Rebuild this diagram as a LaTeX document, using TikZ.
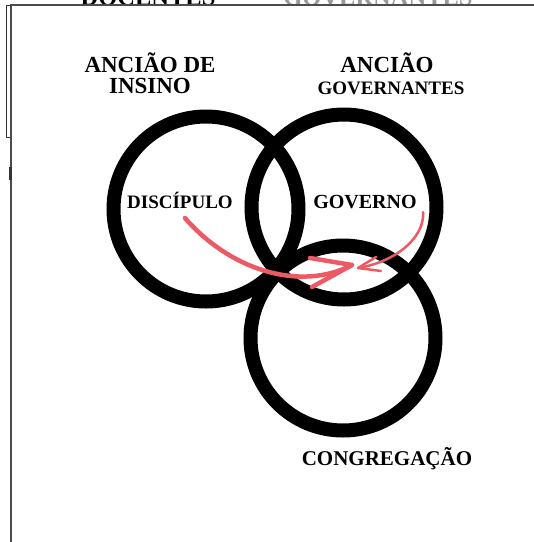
\documentclass[tikz,border=0pt]{standalone}
\usepackage{fontspec}
\setmainfont{Liberation Serif}
\definecolor{arrred}{HTML}{EC5A63}
\begin{document}
\begin{tikzpicture}[x=1pt,y=-1pt,
  ring/.style={draw=black, line width=14pt, circle, minimum size=185pt, inner sep=0pt},
  lbl/.style={anchor=base, inner sep=0pt},
  frameline/.style={draw=black!70, line width=1.3pt},
  redstroke/.style={draw=arrred, line cap=round, line join=round}]
\useasboundingbox (0,0) rectangle (534,542);
\fill[white] (0,0) rectangle (534,542);
% clipped headings at top
\node[lbl, font=\bfseries\fontsize{24.5}{24.5}\selectfont] (t1) at (148,5) {DOCENTES};
\node[lbl, font=\bfseries\fontsize{24.5}{24.5}\selectfont, text=black!40] (t2) at (378,5) {GOVERNANTES};
% frame
\coordinate (fR) at (534,5);
\coordinate (fTL) at (11,5);
\coordinate (fBL) at (11,542);
\draw[frameline] (fR) -- (fTL) -- (fBL);
\coordinate (b1) at (11,5);
\coordinate (b2) at (6,5);
\coordinate (b3) at (6,137);
\coordinate (b4) at (10,137);
\draw[draw=black!80, line width=1pt] (b1) -- (b2) -- (b3) -- (b4);
\coordinate (m1) at (9,167);
\coordinate (m2) at (11.5,180);
\fill[black!80] (m1) rectangle (m2);
% rings
\node[ring] (cl) at (206,209) {};
\node[ring] (cr) at (344,207) {};
\node[ring] (cb) at (343,338) {};
% labels
\node[lbl, font=\bfseries\fontsize{23}{23}\selectfont] (l1a) at (150,72) {ANCIÃO DE};
\node[lbl, font=\bfseries\fontsize{23}{23}\selectfont] (l1b) at (150,93) {INSINO};
\node[lbl, font=\bfseries\fontsize{23}{23}\selectfont] (l2a) at (387,72) {ANCIÃO};
\node[lbl, font=\bfseries\fontsize{19}{19}\selectfont] (l2b) at (391,94) {GOVERNANTES};
\node[lbl, font=\bfseries\fontsize{19}{19}\selectfont] (d) at (180,208) {DISCÍPULO};
\node[lbl, font=\bfseries\fontsize{20}{20}\selectfont] (g) at (365,208) {GOVERNO};
\node[lbl, font=\bfseries\fontsize{21}{21}\selectfont] (c) at (387,465) {CONGREGAÇÃO};
% arrows
\coordinate (a1s) at (185,218);
\coordinate (a1t) at (352,265);
\coordinate (a1u) at (310,258);
\coordinate (a1d) at (312,287);
\draw[redstroke, line width=4.5pt] (a1s) .. controls (230,270) and (300,292) .. (a1t);
\draw[redstroke, line width=4.5pt] (a1u) -- (a1t) -- (a1d);
\coordinate (a2s) at (423,212);
\coordinate (a2t) at (358,268);
\coordinate (a2u) at (376,257);
\coordinate (a2d) at (381,271);
\draw[redstroke, line width=2.5pt] (a2s) .. controls (425,238) and (395,262) .. (a2t);
\draw[redstroke, line width=2.5pt] (a2u) -- (a2t) -- (a2d);
\end{tikzpicture}
\end{document}
